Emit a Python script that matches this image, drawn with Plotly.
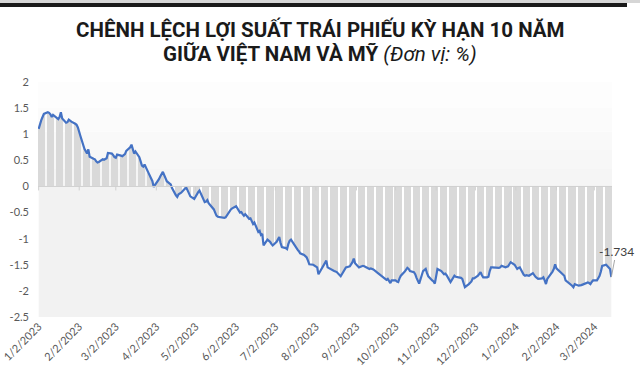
import pandas as pd
import plotly.graph_objects as go

# ---- data: business-day yield spread (VN 10Y - US 10Y), % ----
start_date = "2023-01-02"
end_date = "2024-03-15"
spread_weeks = [
    [1.10, 1.20, 1.27, 1.33, 1.39],
    [1.42, 1.41, 1.38, 1.33, 1.37],
    [1.31, 1.29, 1.33, 1.42, 1.30],
    [1.22, 1.23, 1.28, 1.26, 1.24],
    [1.20, 1.18, 1.13, 1.06, 0.96],
    [0.72, 0.68, 0.63, 0.71, 0.57],
    [0.53, 0.52, 0.48, 0.46, 0.47],
    [0.52, 0.51, 0.52, 0.54, 0.64],
    [0.63, 0.60, 0.56, 0.55, 0.61],
    [0.59, 0.58, 0.60, 0.62, 0.68],
    [0.75, 0.80, 0.70, 0.63, 0.67],
    [0.56, 0.48, 0.40, 0.38, 0.42],
    [0.26, 0.21, 0.17, 0.10, -0.01],
    [0.09, 0.14, 0.19, 0.24, 0.28],
    [0.10, 0.07, 0.06, 0.04, -0.03],
    [-0.17, -0.20, -0.15, -0.14, -0.12],
    [-0.04, -0.03, -0.08, -0.14, -0.19],
    [-0.24, -0.19, -0.16, -0.11, -0.08],
    [-0.27, -0.30, -0.29, -0.26, -0.32],
    [-0.40, -0.44, -0.50, -0.56, -0.58],
    [-0.59, -0.60, -0.60, -0.59, -0.55],
    [-0.44, -0.42, -0.41, -0.40, -0.38],
    [-0.50, -0.49, -0.53, -0.56, -0.53],
    [-0.62, -0.61, -0.66, -0.72, -0.69],
    [-0.87, -0.85, -0.93, -0.91, -1.13],
    [-1.02, -1.04, -1.06, -1.10, -1.13],
    [-1.06, -1.00, -0.97, -1.08, -1.16],
    [-1.18, -1.20, -1.10, -1.04, -1.02],
    [-1.15, -1.17, -1.21, -1.24, -1.28],
    [-1.31, -1.33, -1.36, -1.42, -1.49],
    [-1.50, -1.52, -1.54, -1.55, -1.68],
    [-1.55, -1.52, -1.47, -1.42, -1.55],
    [-1.60, -1.61, -1.62, -1.63, -1.64],
    [-1.72, -1.68, -1.64, -1.59, -1.55],
    [-1.53, -1.50, -1.45, -1.38, -1.47],
    [-1.55, -1.54, -1.53, -1.52, -1.53],
    [-1.57, -1.58, -1.57, -1.58, -1.59],
    [-1.65, -1.67, -1.69, -1.72, -1.74],
    [-1.79, -1.77, -1.80, -1.85, -1.80],
    [-1.80, -1.82, -1.83, -1.76, -1.71],
    [-1.63, -1.60, -1.56, -1.58, -1.62],
    [-1.64, -1.68, -1.75, -1.82, -1.86],
    [-1.62, -1.60, -1.58, -1.66, -1.72],
    [-1.80, -1.82, -1.86, -1.72, -1.58],
    [-1.62, -1.65, -1.68, -1.67, -1.70],
    [-1.83, -1.79, -1.74, -1.71, -1.73],
    [-1.74, -1.75, -1.77, -1.85, -1.93],
    [-1.87, -1.85, -1.82, -1.76, -1.76],
    [-1.71, -1.68, -1.64, -1.70, -1.74],
    [-1.74, -1.73, -1.62, -1.55, -1.55],
    [-1.56, -1.55, -1.56, -1.55, -1.52],
    [-1.55, -1.54, -1.53, -1.49, -1.45],
    [-1.50, -1.53, -1.58, -1.56, -1.55],
    [-1.69, -1.71, -1.70, -1.71, -1.71],
    [-1.66, -1.71, -1.73, -1.75, -1.77],
    [-1.76, -1.74, -1.80, -1.87, -1.77],
    [-1.68, -1.63, -1.58, -1.49, -1.57],
    [-1.64, -1.67, -1.69, -1.71, -1.80],
    [-1.85, -1.88, -1.90, -1.93, -1.87],
    [-1.90, -1.90, -1.89, -1.88, -1.87],
    [-1.84, -1.85, -1.87, -1.83, -1.80],
    [-1.80, -1.76, -1.71, -1.63, -1.52],
    [-1.50, -1.53, -1.55, -1.58, -1.734],
]
tick_labels = ["1/2/2023", "2/2/2023", "3/2/2023", "4/2/2023", "5/2/2023",
               "6/2/2023", "7/2/2023", "8/2/2023", "9/2/2023", "10/2/2023",
               "11/2/2023", "12/2/2023", "1/2/2024", "2/2/2024", "3/2/2024"]
y_ticks = [2, 1.5, 1, 0.5, 0, -0.5, -1, -1.5, -2, -2.5]
y_tick_text = ["2", "1.5", "1", "0.5", "0", "-0.5", "-1", "-1.5", "-2", "-2.5"]
last_label = "-1.734"

dates = pd.bdate_range(start_date, end_date)
values = [v for wk in spread_weeks for v in wk]
tick_vals = pd.to_datetime(tick_labels, format="%m/%d/%Y")
y_min, y_max = -2.5, 2

LINE = "#4472C4"
BAR = "#d9d9d9"
SHADE = "#f2f2f2"
TXT = "#595959"
TICK_FONT = "Lato, 'Noto Sans', sans-serif"
TITLE_FONT = "Roboto, 'Noto Sans', sans-serif"
W, H = 640, 386

fig = go.Figure()
# gray columns from 0 to value
fig.add_trace(go.Bar(x=dates, y=values, width=86400000, marker_color=BAR,
                     marker_line_width=0, hoverinfo="skip"))
# shaded area below min(0, value)
fig.add_trace(go.Scatter(x=dates, y=[y_min] * len(dates), mode="lines",
                         line=dict(width=0), hoverinfo="skip"))
fig.add_trace(go.Scatter(x=dates, y=[min(0, v) for v in values], mode="lines",
                         line=dict(width=0), fill="tonexty", fillcolor=SHADE,
                         hoverinfo="skip"))
# main line
fig.add_trace(go.Scatter(x=dates, y=values, mode="lines",
                         line=dict(color=LINE, width=2.2)))

x_lo = dates[0] - pd.Timedelta(hours=12)
x_hi = dates[-1] + pd.Timedelta(hours=12)

shapes = []
# faint gradient above zero
for (a, b, c) in [(0, 0.35, "#f5f5f5"), (0.35, 0.7, "#f7f7f7"),
                  (0.7, 1.05, "#f9f9f9"), (1.05, 1.5, "#fbfbfb"), (1.5, 2, "#fdfdfd")]:
    shapes.append(dict(type="rect", xref="x", yref="y", x0=x_lo, x1=x_hi, y0=a, y1=b,
                       fillcolor=c, line_width=0, layer="below"))
shapes.append(dict(type="line", xref="x", yref="y", x0=x_lo, x1=x_hi, y0=0, y1=0,
                   line=dict(color="#d0d0d0", width=1)))
for tv in tick_vals:
    shapes.append(dict(type="line", xref="x", yref="y", x0=tv, x1=tv,
                       ysizemode="pixel", yanchor=0, y0=0, y1=-4,
                       line=dict(color="#d0d0d0", width=1)))
# header rule at the very top
shapes.append(dict(type="rect", xref="paper", yref="paper",
                   x0=-38 / (W - 66), x1=1 + 28 / (W - 66),
                   y0=1 + 79 / (H - 151), y1=1 + 82 / (H - 151),
                   fillcolor="#d6d6d6", line_width=0))
shapes.append(dict(type="rect", xref="paper", yref="paper",
                   x0=-38 / (W - 66), x1=(627 - 38) / (W - 66),
                   y0=1 + 75 / (H - 151), y1=1 + 79 / (H - 151),
                   fillcolor="#1a1a1a", line_width=0))

annotations = [
    dict(text="<b>CHÊNH LỆCH LỢI SUẤT TRÁI PHIẾU KỲ HẠN 10 NĂM</b>",
         xref="paper", yref="paper", x=0.5, y=1, xanchor="center", yanchor="middle",
         xshift=(320 - 38) - 0.5 * (W - 38 - 28), yshift=82 - 29, showarrow=False,
         font=dict(family=TITLE_FONT, size=20.5, color="#1a1a1a")),
    dict(text="<b>GIỮA VIỆT NAM VÀ MỸ</b> <i>(Đơn vị: %)</i>",
         xref="paper", yref="paper", x=0.5, y=1, xanchor="center", yanchor="middle",
         xshift=(320 - 38) - 0.5 * (W - 38 - 28), yshift=82 - 54, showarrow=False,
         font=dict(family=TITLE_FONT, size=20.5, color="#1a1a1a")),
    dict(text=last_label, x=dates[-1], y=values[-1], xref="x", yref="y",
         showarrow=True, arrowhead=0, arrowwidth=1, arrowcolor="#a6a6a6",
         ax=5, ay=-26, font=dict(family=TICK_FONT, size=12, color="#404040")),
]

fig.update_layout(
    width=W, height=H,
    margin=dict(l=38, r=28, t=82, b=69),
    paper_bgcolor="white", plot_bgcolor="white",
    showlegend=False, bargap=0,
    shapes=shapes, annotations=annotations,
    font=dict(family=TICK_FONT, size=11, color=TXT),
)
fig.update_xaxes(type="date", range=[x_lo, x_hi], tickmode="array",
                 tickvals=tick_vals, ticktext=tick_labels, tickangle=-45,
                 showgrid=False, zeroline=False, showline=False, ticks="",
                 automargin=False,
                 tickfont=dict(family=TICK_FONT, size=11, color=TXT))
fig.update_yaxes(range=[y_min, y_max], tickmode="array", tickvals=y_ticks,
                 ticktext=y_tick_text, showgrid=False, zeroline=False,
                 showline=False, ticks="", ticklabelstandoff=8, automargin=False,
                 tickfont=dict(family=TICK_FONT, size=11, color=TXT))

fig.write_html("out.html")
